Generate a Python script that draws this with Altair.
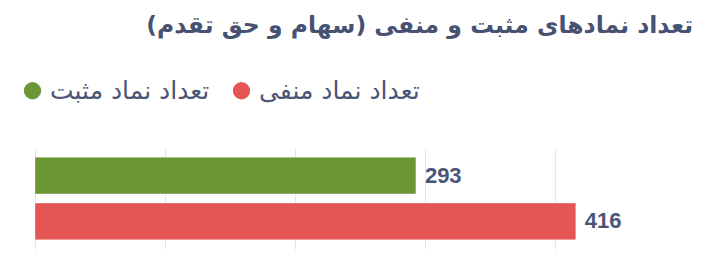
import altair as alt
import pandas as pd

categories = ["تعداد نماد مثبت", "تعداد نماد منفی"]
values = [293, 416]
colors = ["#6a9636", "#e55555"]
tick_values = [0, 100, 200, 300, 400]
title_text = "تعداد نمادهای مثبت و منفی (سهام و حق تقدم)\u200f"

df = pd.DataFrame({"cat": categories, "value": values})

TEXT = "#4a5577"

base = alt.Chart(df).encode(
    y=alt.Y("cat:N", sort=categories, title=None,
            scale=alt.Scale(paddingInner=0.2, paddingOuter=0.2),
            axis=alt.Axis(labels=False, ticks=False, domain=False, grid=False)),
)

bars = base.mark_bar(strokeWidth=1, strokeOpacity=0.35, stroke="white").encode(
    x=alt.X("value:Q", title=None,
            scale=alt.Scale(domain=[0, 480], nice=False),
            axis=alt.Axis(values=tick_values, labels=False, ticks=False, domain=False,
                          grid=True, gridColor="#e6e6e6", gridWidth=1)),
    color=alt.Color("cat:N", sort=categories,
                    scale=alt.Scale(domain=categories, range=colors),
                    legend=alt.Legend(title=None, orient="none", direction="horizontal",
                                      legendX=-15, legendY=-70, padding=0,
                                      symbolType="circle", symbolSize=300,
                                      symbolStrokeWidth=0, symbolOpacity=1,
                                      labelFont="DejaVu Sans", labelFontSize=25,
                                      labelColor=TEXT, labelOffset=5,
                                      labelLimit=400, columnPadding=19)),
)

labels = base.mark_text(align="left", baseline="middle", dx=9,
                        font="Liberation Sans", fontWeight="bold",
                        fontSize=22, color=TEXT).encode(
    x="value:Q",
    text="value:Q",
)

chart = (bars + labels).properties(
    width=624,
    height=101,
    padding={"left": 35, "top": 148, "right": 42, "bottom": 28},
    autosize=alt.AutoSizeParams(type="none"),
    title=alt.TitleParams(title_text, anchor="end", frame="group", dx=34,
                          offset=22, baseline="alphabetic",
                          font="DejaVu Sans", fontSize=23.5, fontWeight="bold",
                          color="#475273"),
).configure_view(stroke=None)

chart.save("out.html", embed_options={"renderer": "svg", "actions": False})
